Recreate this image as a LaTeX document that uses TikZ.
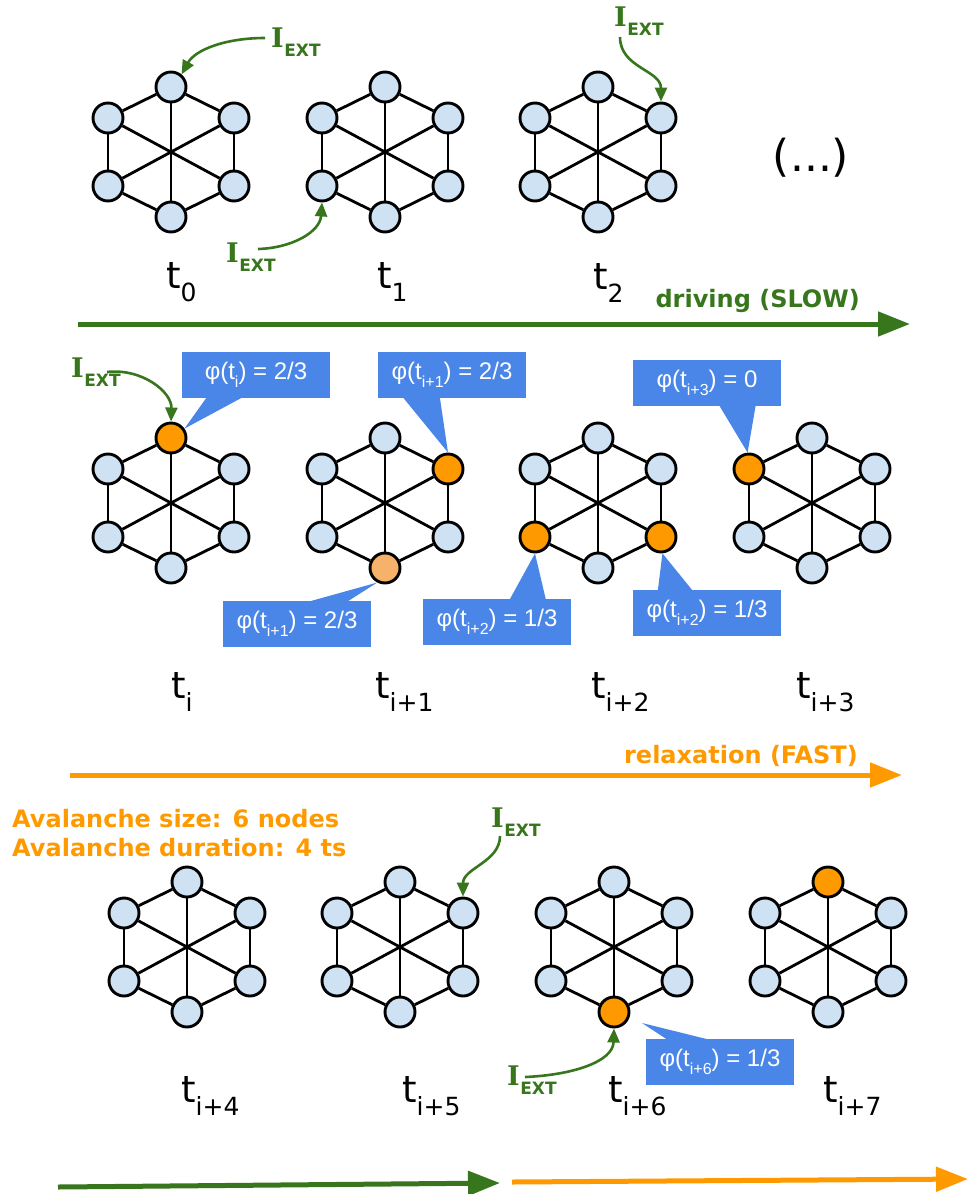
\documentclass[tikz,border=0pt]{standalone}
\usepackage{fontspec}
\setmainfont{DejaVu Sans}
\newfontfamily\serfont{DejaVu Serif}
\newfontfamily\arifont{Liberation Sans}
\usetikzlibrary{arrows.meta,calc}
\definecolor{dgreen}{HTML}{38761D}
\definecolor{orng}{HTML}{FF9900}
\definecolor{lorng}{HTML}{F6B26B}
\definecolor{cblue}{HTML}{4A86E8}
\definecolor{nblue}{HTML}{CFE2F3}
\newcommand\fs[1]{\fontsize{#1}{#1}\selectfont}
\newcommand\iext{{\serfont\bfseries\fs{27}I}\hspace{0.5pt}\raisebox{-9pt}{\bfseries\fs{17}EXT}}
\newcommand\tlab[1]{{\fs{37}t}\raisebox{-13pt}{\fs{25}#1}}
\newcommand\phit[2]{φ(t\raisebox{-8pt}{\fs{16}#1}) = #2}
\newcommand\hexg[9]{%
  \coordinate (#1c) at (#2,#3);
  \node[nd,fill=#4] (#1t)  at ($(#1c)+(0,-65)$) {};
  \node[nd,fill=#5] (#1ur) at ($(#1c)+(63,-34)$) {};
  \node[nd,fill=#6] (#1lr) at ($(#1c)+(63,34)$) {};
  \node[nd,fill=#7] (#1b)  at ($(#1c)+(0,65)$) {};
  \node[nd,fill=#8] (#1ll) at ($(#1c)+(-63,34)$) {};
  \node[nd,fill=#9] (#1ul) at ($(#1c)+(-63,-34)$) {};
  \draw[edge] (#1t) -- (#1b);
  \draw[edge] (#1ul) -- (#1lr);
  \draw[edge] (#1ur) -- (#1ll);
  \draw[edge] (#1t) -- (#1ul);
  \draw[edge] (#1ul) -- (#1ll);
  \draw[edge] (#1ll) -- (#1b);
  \draw[edge] (#1b) -- (#1lr);
  \draw[edge] (#1lr) -- (#1ur);
  \draw[edge] (#1ur) -- (#1t);
}
\begin{document}
\begin{tikzpicture}[x=1pt,y=-1pt,
  nd/.style={circle,draw=black,line width=2.9pt,minimum size=30pt,inner sep=0pt},
  edge/.style={line width=2.8pt,black},
  iarr/.style={dgreen,line width=2.6pt,-{Triangle[length=14pt,width=12pt]}},
  big/.style={line width=5pt,-{Triangle[length=32pt,width=24pt]}},
  callout/.style={fill=cblue,text=white,font=\arifont\fs{24},minimum width=148pt,minimum height=46pt,inner sep=0pt},
  tl/.style={anchor=base west,inner sep=0pt},
  il/.style={anchor=base west,inner sep=0pt,text=dgreen},
  bl/.style={inner sep=0pt,font=\bfseries\fs{24}}]
\useasboundingbox (0,0) rectangle (968,1194);
% row 1
\hexg{a}{171}{152}{nblue}{nblue}{nblue}{nblue}{nblue}{nblue}
\hexg{b}{385}{152}{nblue}{nblue}{nblue}{nblue}{nblue}{nblue}
\hexg{c}{598}{152}{nblue}{nblue}{nblue}{nblue}{nblue}{nblue}
% row 2
\hexg{d}{171}{503}{orng}{nblue}{nblue}{nblue}{nblue}{nblue}
\hexg{e}{385}{503}{nblue}{orng}{nblue}{lorng}{nblue}{nblue}
\hexg{f}{598}{503}{nblue}{nblue}{orng}{nblue}{orng}{nblue}
\hexg{g}{812}{503}{nblue}{nblue}{nblue}{nblue}{nblue}{orng}
% row 3
\hexg{h}{187}{947}{nblue}{nblue}{nblue}{nblue}{nblue}{nblue}
\hexg{i}{400}{947}{nblue}{nblue}{nblue}{nblue}{nblue}{nblue}
\hexg{j}{614}{947}{nblue}{nblue}{nblue}{orng}{nblue}{nblue}
\hexg{k}{828}{947}{orng}{nblue}{nblue}{nblue}{nblue}{nblue}
% time labels
\node[tl] (la) at (166,288) {\tlab{0}};
\node[tl] (lb) at (377,288) {\tlab{1}};
\node[tl] (lc) at (593,289) {\tlab{2}};
\node[tl] (ld) at (171,698) {\tlab{i}};
\node[tl] (le) at (375,698) {\tlab{i+1}};
\node[tl] (lf) at (591,698) {\tlab{i+2}};
\node[tl] (lg) at (796,698) {\tlab{i+3}};
\node[tl] (lh) at (181,1102) {\tlab{i+4}};
\node[tl] (li) at (402,1102) {\tlab{i+5}};
\node[tl] (lj) at (608,1102) {\tlab{i+6}};
\node[tl] (lk) at (823,1102) {\tlab{i+7}};
\node[inner sep=0pt,font=\fs{44}] (dots) at (811,158) {(...)};
% big arrows
\coordinate (g1s) at (78,324); \coordinate (g1e) at (910,324);
\draw[big,dgreen] (g1s) -- (g1e);
\node[bl,anchor=base east,text=dgreen] (drv) at (860,307) {driving (SLOW)};
\coordinate (o1s) at (70,775); \coordinate (o1e) at (902,775);
\draw[big,orng] (o1s) -- (o1e);
\node[bl,anchor=base east,text=orng] (rel) at (858,763) {relaxation (FAST)};
\coordinate (g2s) at (58,1187); \coordinate (g2e) at (500,1183);
\draw[big,dgreen] (g2s) -- (g2e);
\coordinate (o2s) at (512,1182); \coordinate (o2e) at (968,1179);
\draw[big,orng] (o2s) -- (o2e);
\node[bl,anchor=base west,text=orng] (av1) at (12,827) {Avalanche size: 6 nodes};
\node[bl,anchor=base west,text=orng] (av2) at (12,856) {Avalanche duration: 4 ts};
% I_EXT
\node[il] (i1) at (271,47) {\iext};
\coordinate (s1) at (265,38);
\draw[iarr] (s1) .. controls (225,38) and (195,50) .. (at.50);
\node[il] (i2) at (226,262) {\iext};
\coordinate (s2) at (258,249);
\draw[iarr] (s2) .. controls (292,248) and (320,232) .. (bll.south);
\node[il] (i3) at (614,26) {\iext};
\coordinate (s3) at (620,37);
\draw[iarr] (s3) .. controls (620,68) and (661,70) .. (cur.north);
\node[il] (i4) at (71,377) {\iext};
\coordinate (s4) at (107,372);
\draw[iarr] (s4) .. controls (142,368) and (172,392) .. (dt.north);
\node[il] (i5) at (491,827) {\iext};
\coordinate (s5) at (500,836);
\draw[iarr] (s5) .. controls (500,862) and (463,868) .. (iur.north);
\node[il] (i6) at (507,1085) {\iext};
\coordinate (s6) at (525,1077);
\draw[iarr] (s6) .. controls (572,1075) and (613,1062) .. (jb.south);
% callouts
\node[callout] (p1) at (256,375) {\phit{i}{2/3}};
\fill[cblue] ($(p1.south west)+(25,-1)$) -- (dt.35) -- ($(p1.south west)+(61,-1)$) -- cycle;
\node[callout] (p2) at (452,375) {\phit{i+1}{2/3}};
\fill[cblue] ($(p2.south west)+(25,-1)$) -- (eur.north) -- ($(p2.south west)+(62,-1)$) -- cycle;
\node[callout] (p3) at (297,623.5) {\phit{i+1}{2/3}};
\fill[cblue] ($(p3.north west)+(87,1)$) -- (eb.242) -- ($(p3.north west)+(125,1)$) -- cycle;
\node[callout] (p4) at (497,621.5) {\phit{i+2}{1/3}};
\fill[cblue] ($(p4.north west)+(87,1)$) -- (fll.south) -- ($(p4.north west)+(123,1)$) -- cycle;
\node[callout] (p5) at (707,613) {\phit{i+2}{1/3}};
\fill[cblue] ($(p5.north west)+(25,1)$) -- (flr.-85) -- ($(p5.north west)+(60,1)$) -- cycle;
\node[callout] (p6) at (707,382.5) {\phit{i+3}{0}};
\fill[cblue] ($(p6.south west)+(86,-1)$) -- (gul.95) -- ($(p6.south west)+(123,-1)$) -- cycle;
\node[callout] (p7) at (720,1061.5) {\phit{i+6}{1/3}};
\coordinate (p7tip) at ($(jb)+(28,11)$);
\fill[cblue] ($(p7.north west)+(21,1)$) -- (p7tip) -- ($(p7.north west)+(62,1)$) -- cycle;
\end{tikzpicture}
\end{document}
